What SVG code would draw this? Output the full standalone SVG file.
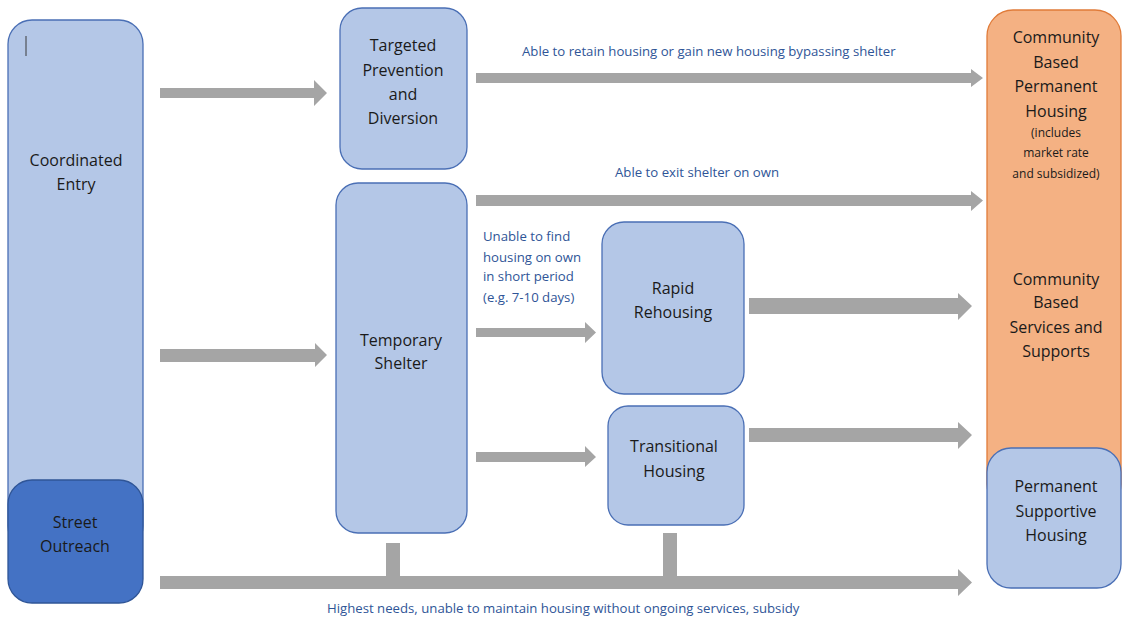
<svg xmlns="http://www.w3.org/2000/svg" width="1122" height="619" viewBox="0 0 1122 619">
<style>
.lb{fill:#b4c7e7;stroke:#4a6fb5;stroke-width:1.3}
.db{fill:#4472c4;stroke:#2f5597;stroke-width:1.3}
.or{fill:#f4b183;stroke:#e07b39;stroke-width:1.3}
.t{font-family:"Open Sans","Noto Sans",sans-serif;font-size:16px;fill:#1a1a1a;text-anchor:middle}
.ts{font-family:"Open Sans","Noto Sans",sans-serif;font-size:12px;fill:#1a1a1a;text-anchor:middle}
.bl{font-family:"Open Sans","Noto Sans",sans-serif;font-size:13.2px;fill:#2f5597}
.ar{fill:#a5a5a5}
</style>
<g id="coordinated-entry">
<rect class="lb" x="8" y="20" width="135" height="530" rx="24"/>
<line x1="26" y1="36" x2="26" y2="56" stroke="#3a3a3a" stroke-width="1"/>
<text class="t" x="76" y="166">Coordinated</text>
<text class="t" x="76" y="190">Entry</text>
</g>
<g id="street-outreach">
<rect class="db" x="8" y="480" width="135" height="123" rx="24"/>
<text class="t" x="75" y="528">Street</text>
<text class="t" x="75" y="552">Outreach</text>
</g>
<g id="targeted-prevention">
<rect class="lb" x="340" y="8" width="127" height="161" rx="22"/>
<text class="t" x="403" y="51">Targeted</text>
<text class="t" x="403" y="76">Prevention</text>
<text class="t" x="403" y="100">and</text>
<text class="t" x="403" y="124">Diversion</text>
</g>
<g id="temporary-shelter">
<rect class="lb" x="336" y="183" width="131" height="350" rx="22"/>
<text class="t" x="401" y="346">Temporary</text>
<text class="t" x="401" y="369">Shelter</text>
</g>
<g id="rapid-rehousing">
<rect class="lb" x="602" y="222" width="142" height="172" rx="22"/>
<text class="t" x="673" y="294">Rapid</text>
<text class="t" x="673" y="318">Rehousing</text>
</g>
<g id="transitional-housing">
<rect class="lb" x="608" y="406" width="136" height="119" rx="20"/>
<text class="t" x="674" y="452">Transitional</text>
<text class="t" x="674" y="477">Housing</text>
</g>
<g id="community-based">
<rect class="or" x="987" y="10" width="134" height="500" rx="26"/>
<text class="t" x="1056" y="43">Community</text>
<text class="t" x="1056" y="68">Based</text>
<text class="t" x="1056" y="92">Permanent</text>
<text class="t" x="1056" y="117">Housing</text>
<text class="ts" x="1056" y="137">(includes</text>
<text class="ts" x="1056" y="157">market rate</text>
<text class="ts" x="1056" y="178">and subsidized)</text>
<text class="t" x="1056" y="285">Community</text>
<text class="t" x="1056" y="308">Based</text>
<text class="t" x="1056" y="333">Services and</text>
<text class="t" x="1056" y="357">Supports</text>
</g>
<g id="permanent-supportive-housing">
<rect class="lb" x="987" y="448" width="134" height="140" rx="24"/>
<text class="t" x="1056" y="492">Permanent</text>
<text class="t" x="1056" y="517">Supportive</text>
<text class="t" x="1056" y="541">Housing</text>
</g>
<g id="connectors">
<polygon class="ar" points="160,88 314,88 314,80 327,93 314,106 314,98 160,98"/>
<polygon class="ar" points="160,349 315,349 315,343 327,355 315,367 315,362 160,362"/>
<polygon class="ar" points="476,73 971,73 971,69 983,78 971,87 971,83 476,83"/>
<polygon class="ar" points="476,195 971,195 971,191 983,200.5 971,211 971,206 476,206"/>
<polygon class="ar" points="476,328 585,328 585,322 596,332.5 585,343 585,337 476,337"/>
<polygon class="ar" points="476,452 585,452 585,446 596,457 585,467 585,462 476,462"/>
<polygon class="ar" points="749,298 958,298 958,293 972,306 958,320 958,314 749,314"/>
<polygon class="ar" points="749,428 958,428 958,422 972,435 958,449 958,442 749,442"/>
<polygon class="ar" points="160,576 958,576 958,569 972,582.5 958,596 958,589 160,589"/>
<rect class="ar" x="386" y="543" width="14" height="34"/>
<rect class="ar" x="663" y="533" width="14" height="44"/>
<text class="bl" x="522" y="56">Able to retain housing or gain new housing bypassing shelter</text>
<text class="bl" x="615" y="177">Able to exit shelter on own</text>
<text class="bl" x="483" y="241">Unable to find</text>
<text class="bl" x="483" y="262">housing on own</text>
<text class="bl" x="483" y="281">in short period</text>
<text class="bl" x="483" y="302">(e.g. 7-10 days)</text>
<text class="bl" x="327" y="613">Highest needs, unable to maintain housing without ongoing services, subsidy</text>
</g>
</svg>
